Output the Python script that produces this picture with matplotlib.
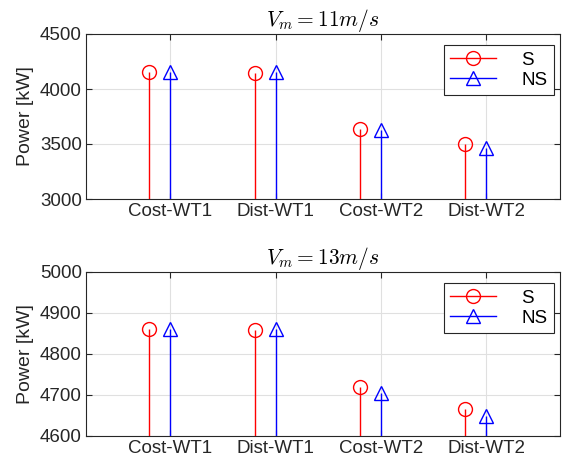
import matplotlib
matplotlib.use("Agg")
import matplotlib.pyplot as plt
import numpy as np
from matplotlib.legend_handler import HandlerLine2D
from matplotlib.lines import Line2D

plt.rcParams['font.family'] = ['Liberation Sans', 'DejaVu Sans']
plt.rcParams['mathtext.fontset'] = 'cm'

categories = ["Cost-WT1", "Dist-WT1", "Cost-WT2", "Dist-WT2"]
titles = [r"$V_m = 11m/s$", r"$V_m = 13m/s$"]
s_vals_11 = [4152, 4148, 3636, 3503]
ns_vals_11 = [4155, 4155, 3627, 3464]
s_vals_13 = [4862, 4858, 4719, 4666]
ns_vals_13 = [4862, 4862, 4704, 4649]
ylims = [(3000, 4500), (4600, 5000)]
yticks = [[3000, 3500, 4000, 4500], [4600, 4700, 4800, 4900, 5000]]


class EndMarkerHandler(HandlerLine2D):
    def get_xdata(self, legend, xdescent, ydescent, width, height, fontsize):
        xdata = [-xdescent, -xdescent + width]
        return xdata, [-xdescent + width]


fig = plt.figure(figsize=(5.63, 4.63), dpi=100)
axes_pos = [
    [86 / 563, 1 - 199 / 463, (560 - 86) / 563, (199 - 34) / 463],
    [86 / 563, 1 - 436 / 463, (560 - 86) / 563, (436 - 272) / 463],
]

datasets = [(s_vals_11, ns_vals_11), (s_vals_13, ns_vals_13)]
x = np.arange(1, len(categories) + 1)

for i, (pos, (s_vals, ns_vals)) in enumerate(zip(axes_pos, datasets)):
    ax = fig.add_axes(pos)
    lo, hi = ylims[i]
    ax.vlines(x - 0.2, lo, s_vals, colors='red', linewidth=1.0, zorder=3)
    ax.plot(x - 0.2, s_vals, 'o', markersize=10, markerfacecolor='none',
            markeredgecolor='red', markeredgewidth=1.0, zorder=4)
    ax.vlines(x, lo, ns_vals, colors='blue', linewidth=1.0, zorder=3)
    ax.plot(x, ns_vals, '^', markersize=10, markerfacecolor='none',
            markeredgecolor='blue', markeredgewidth=1.0, zorder=4)
    ax.set_xlim(0.2, 4.7)
    ax.set_ylim(lo, hi)
    ax.set_yticks(yticks[i])
    ax.set_xticks(x)
    ax.set_xticklabels(categories)
    ax.grid(True, color='#e0e0e0', linewidth=0.8, zorder=0)
    ax.set_axisbelow(True)
    for sp in ax.spines.values():
        sp.set_color('#262626')
        sp.set_linewidth(0.8)
    ax.tick_params(direction='in', top=True, right=True, labelsize=13.5,
                   colors='#262626', length=4, width=0.8, labelcolor='#262626',
                   pad=3)
    ax.set_ylabel("Power [kW]", fontsize=14, color='#262626', labelpad=4)
    ax.set_title(titles[i], fontsize=15.5, pad=6)

    h_s = Line2D([], [], color='red', linewidth=1.0, marker='o', markersize=10,
                 markerfacecolor='none', markeredgecolor='red')
    h_ns = Line2D([], [], color='blue', linewidth=1.0, marker='^', markersize=10,
                  markerfacecolor='none', markeredgecolor='blue')
    leg = ax.legend([h_s, h_ns], ["S", "NS"], loc='upper right',
                    bbox_to_anchor=(1 - 6 / 474, 1 - 11 / 164),
                    handler_map={Line2D: EndMarkerHandler()},
                    fontsize=13.5, handlelength=2.45, numpoints=1,
                    fancybox=False, framealpha=1, edgecolor='#262626',
                    borderaxespad=0, handletextpad=1.35, labelspacing=0.15,
                    borderpad=0.35)
    leg.get_frame().set_linewidth(0.8)

fig.savefig("out.png", dpi=100)
